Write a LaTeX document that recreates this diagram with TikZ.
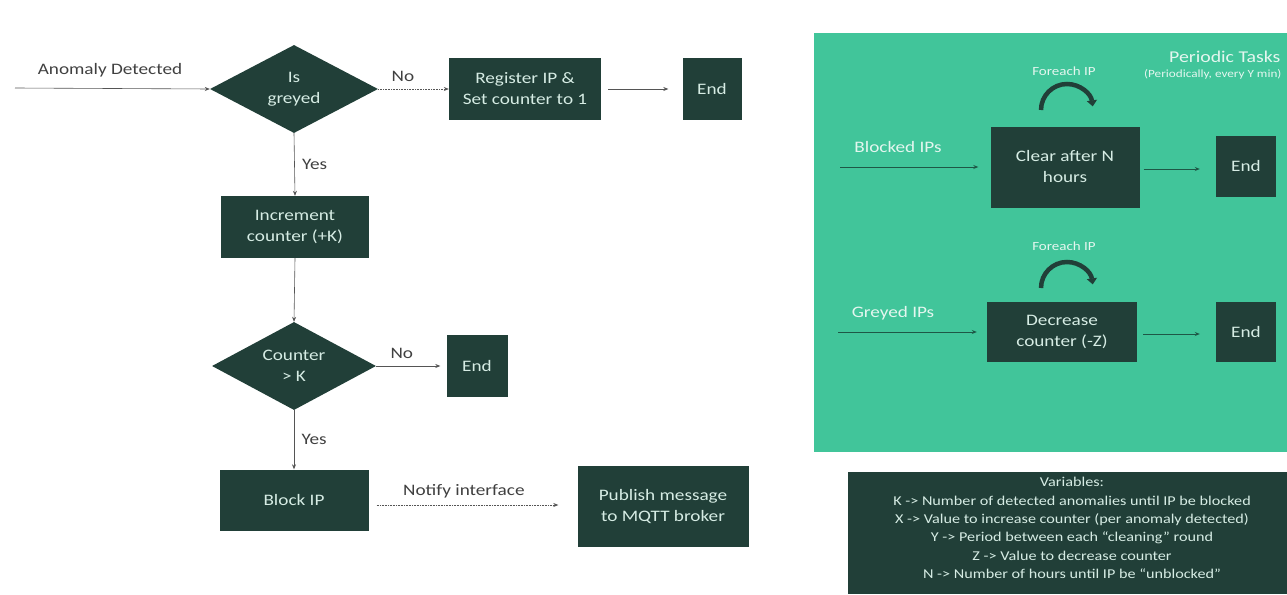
\documentclass[tikz,border=0pt]{standalone}
\usepackage{fontspec}
\setmainfont{Carlito}[FakeStretch=1.2]
\usetikzlibrary{shapes.geometric,arrows.meta}
\definecolor{boxdark}{HTML}{213F38}
\definecolor{boxtext}{HTML}{D6ECE4}
\definecolor{panel}{HTML}{41C59A}
\definecolor{linegrey}{HTML}{555555}
\definecolor{linegreen}{HTML}{1E5746}
\definecolor{labeltext}{HTML}{E4F6EF}
\tikzset{
  box/.style={fill=boxdark, text=boxtext, align=center, inner sep=2pt, font=\fontsize{16}{21}\selectfont},
  decision/.style={diamond, fill=boxdark, text=boxtext, align=center, inner sep=0pt, aspect=1.9, font=\fontsize{16}{21}\selectfont},
  flow/.style={draw=linegrey, line width=0.6pt, -{Stealth[length=5pt,width=4pt]}},
  dflow/.style={flow, densely dotted},
  gflow/.style={draw=linegreen, line width=0.8pt, -{Stealth[length=5pt,width=4pt]}},
  lbl/.style={text=black!75, font=\fontsize{16}{18}\selectfont},
  glbl/.style={text=labeltext, font=\fontsize{16}{18}\selectfont},
  loop/.style={draw=boxdark, line width=4.5pt, -{Triangle[length=6pt,width=10pt]}},
}
\begin{document}
\begin{tikzpicture}[x=1pt,y=-1pt]
\useasboundingbox (0,0) rectangle (1287,594);

% main detection flow
\coordinate (start) at (15,88);
\node[lbl] (anomaly) at (110,70) {Anomaly Detected};
\node[decision, minimum width=168pt, minimum height=88pt] (greyed) at (294,89) {Is\\greyed};
\node[box, minimum width=152pt, minimum height=61pt] (register) at (525,89) {Register IP \&\\Set counter to 1};
\node[box, minimum width=59pt, minimum height=61pt] (end1) at (712,89) {End};
\node[box, minimum width=148pt, minimum height=62pt] (incr) at (295,227) {Increment\\counter (+K)};
\node[decision, minimum width=164pt, minimum height=88pt] (counter) at (294,366) {Counter\\> K};
\node[box, minimum width=61pt, minimum height=62pt] (end2) at (477,366) {End};
\node[box, minimum width=149pt, minimum height=61pt] (block) at (294,500) {Block IP};
\node[box, minimum width=171pt, minimum height=81pt] (publish) at (663,506) {Publish message\\to MQTT broker};

\draw[flow] (start) -- (greyed.west);
\draw[dflow] (greyed.east) -- node[lbl, above=4pt, pos=0.35] {No} (register.west);
\draw[flow] ([xshift=7pt]register.east) -- ([xshift=-14pt]end1.west);
\draw[flow] (greyed.south) -- node[lbl, right=4pt] {Yes} (incr.north);
\draw[flow] (incr.south) -- (counter.north);
\draw[flow] (counter.east) -- node[lbl, above=4pt, pos=0.4] {No} ([xshift=-6pt]end2.west);
\draw[flow] (counter.south) -- node[lbl, right=4pt] {Yes} (block.north);
\draw[dflow] ([xshift=8pt]block.east |- 0,505) -- node[lbl, above=3pt, pos=0.48] {Notify interface} ([xshift=-19pt]publish.west |- 0,505);

% periodic tasks panel
\fill[panel] (814,33) rectangle (1287,452);
\node[glbl, anchor=east, font=\fontsize{16.5}{18}\selectfont] (ptitle) at (1284,57) {Periodic Tasks};
\node[glbl, anchor=east, font=\fontsize{11}{13}\selectfont] (psub) at (1285,74) {(Periodically, every Y min)};

\node[box, minimum width=149pt, minimum height=81pt] (clear) at (1065,167) {Clear after N\\hours};
\node[box, minimum width=60pt, minimum height=61pt] (end3) at (1246,166) {End};
\node[box, minimum width=150pt, minimum height=60pt] (decrease) at (1062,332) {Decrease\\counter (-Z)};
\node[box, minimum width=60pt, minimum height=60pt] (end4) at (1246,332) {End};

\node[glbl] (blocked) at (898,147) {Blocked IPs};
\node[glbl] (greyedips) at (893,313) {Greyed IPs};
\coordinate (bin) at (840,167);
\coordinate (gin) at (838,332);
\draw[gflow] (bin) -- ([xshift=-12pt]clear.west |- bin);
\draw[gflow] (gin) -- ([xshift=-10pt]decrease.west |- gin);
\draw[gflow] ([xshift=4pt]clear.east |- 0,169) -- ([xshift=-16pt]end3.west |- 0,169);
\draw[gflow] ([xshift=6pt]decrease.east |- 0,334) -- ([xshift=-16pt]end4.west |- 0,334);

% per-IP loops
\node[glbl, font=\fontsize{12.5}{14}\selectfont] (fe1) at (1064,71) {Foreach IP};
\node[glbl, font=\fontsize{12.5}{14}\selectfont] (fe2) at (1064,246) {Foreach IP};
\draw[loop] (1041,110) arc[start angle=180, end angle=352, radius=26];
\draw[loop] (1041,288) arc[start angle=180, end angle=352, radius=26];

% variables legend
\fill[boxdark] (848,472) rectangle (1287,594);
\node[text=boxtext, align=center, font=\fontsize{13.5}{18.3}\selectfont, anchor=north] (vars) at (1072,474)
  {Variables:\\
   K -> Number of detected anomalies until IP be blocked\\
   X -> Value to increase counter (per anomaly detected)\\
   Y -> Period between each ``cleaning'' round\\
   Z -> Value to decrease counter\\
   N -> Number of hours until IP be ``unblocked''};
\end{tikzpicture}
\end{document}
